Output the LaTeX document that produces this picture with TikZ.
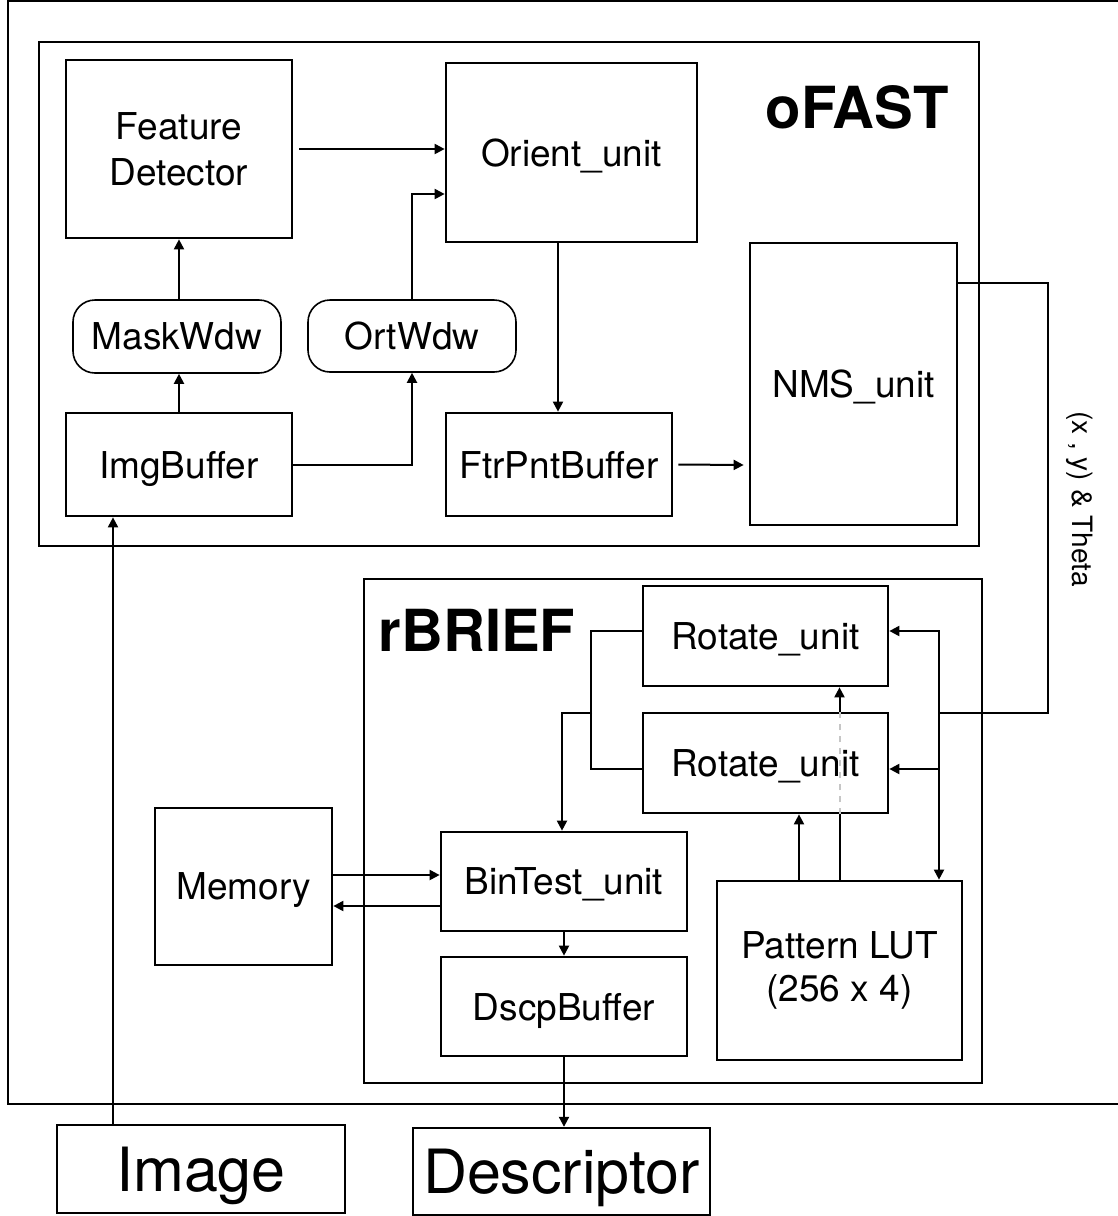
\documentclass[tikz,border=0pt]{standalone}
\usepackage{fontspec}
\setmainfont{TeX Gyre Heros}
\usetikzlibrary{arrows.meta, positioning}

\begin{document}
\begin{tikzpicture} [x = 0.5pt, y = -0.5pt,
    blk/.style = {draw, line width = 1.35pt, inner sep = 0pt, align = center, font = \fontsize{18.5}{23}\selectfont},
    unit/.style = {blk, text depth = 0pt},
    wdw/.style = {unit, rounded corners = 11pt, line width = 0.8pt},
    io/.style = {draw, line width = 1.2pt, inner sep = 0pt, text depth = 0pt, font = \fontsize{30.5}{36}\selectfont},
    title/.style = {inner sep = 0pt, font = \fontsize{29}{34}\selectfont\bfseries},
    frame/.style = {line width = 1.2pt},
    wire/.style = {line width = 1pt},
    arr/.style = {wire, -{Triangle[length = 5pt, width = 5pt]}}]
\useasboundingbox (0,0) rectangle (1118,1216);
\draw [frame] (1118,1) -- (8,1) -- (8,1104) -- (1118,1104);
\draw [frame] (39,42) rectangle (979,546);
\draw [frame] (364,579) rectangle (982,1083);
\node (ofast) [title] at (857,107) {oFAST};
\node (rbrief) [title] at (477,630) {rBRIEF};
\node (fd) [blk, minimum width = 113pt, minimum height = 89pt] at (179,149) {Feature\\Detector};
\node (orient) [unit, minimum width = 125.5pt, minimum height = 89.5pt] at (571.5,152.5) {Orient\_unit};
\node (nms) [unit, minimum width = 103.5pt, minimum height = 141pt] at (853.5,384) {NMS\_unit};
\node (mask) [wdw, minimum width = 104pt, minimum height = 36.5pt] at (177,336.5) {MaskWdw};
\node (ort) [wdw, minimum width = 104pt, minimum height = 36pt] at (412,336) {OrtWdw};
\node (imgbuf) [unit, minimum width = 113pt, minimum height = 51.5pt] at (179,464.5) {ImgBuffer};
\node (ftrbuf) [unit, minimum width = 113pt, minimum height = 51.5pt] at (559,464.5) {FtrPntBuffer};
\node (rot1) [unit, minimum width = 122.5pt, minimum height = 50pt] at (765.5,636) {Rotate\_unit};
\node (rot2) [unit, minimum width = 122.5pt, minimum height = 50pt] at (765.5,763) {Rotate\_unit};
\node (mem) [unit, minimum width = 88.5pt, minimum height = 78.5pt] at (243.5,886.5) {Memory};
\node (bin) [unit, minimum width = 123pt, minimum height = 49.5pt] at (564,881.5) {BinTest\_unit};
\node (dscp) [unit, minimum width = 123pt, minimum height = 49.5pt] at (564,1006.5) {DscpBuffer};
\node (lut) [blk, minimum width = 122.5pt, minimum height = 89.5pt, font = \fontsize{18.5}{21.5}\selectfont] at (839.5,970.5) {Pattern LUT\\(256 x 4)};
\node (image) [io, minimum width = 144pt, minimum height = 44pt] at (201,1169) {Image};
\node (desc) [io, minimum width = 148.5pt, minimum height = 43.5pt] at (561.5,1171.5) {Descriptor};
\node (xyt) [rotate = -90, inner sep = 0pt, font = \fontsize{14}{17}\selectfont] at (1080,499) {(x , y) \& Theta};
\coordinate (bus) at (1048,713);
\coordinate (tap) at (939,713);
\coordinate (rj) at (592,713);
\draw [arr] ([xshift = 3pt]fd.east) -- ([yshift = 1.75pt]orient.west);
\draw [arr] (imgbuf.east) -| (ort.south);
\draw [arr] (ort.north) |- ([yshift = -20.75pt]orient.west);
\draw [arr] (imgbuf.north) -- ([xshift = 1pt]mask.south);
\draw [arr] ([xshift = 1pt]mask.north) -- (fd.south);
\draw [arr] ([xshift = -6.75pt]orient.south) -- ([xshift = -0.5pt]ftrbuf.north);
\draw [arr] ([xshift = 2.5pt]ftrbuf.east) -- ([xshift = -2.5pt, yshift = -40.5pt]nms.west);
\draw [wire] ([yshift = 50.5pt]nms.east) -| (bus) -- (tap);
\draw [arr] (tap) |- ([yshift = 2.5pt]rot1.east);
\draw [arr] (tap) |- ([yshift = -3pt]rot2.east);
\draw [arr] (tap) -- (tap |- lut.north);
\draw [wire] ([yshift = 2.5pt]rot1.west) -- ++(-25.5pt,0) |- ([yshift = -3pt]rot2.west);
\draw [arr] (rj) -| ([xshift = -1pt]bin.north);
\draw [arr] ([xshift = -20.25pt]lut.north) -- ([xshift = 16.75pt]rot2.south);
\draw [wire] (lut.north) -- (lut.north |- rot2.south);
\draw [wire, gray!45, dashed] (rot2.south -| lut.north) -- (rot2.north -| lut.north);
\draw [arr] (rot2.north -| lut.north) -- (rot1.south -| lut.north);
\draw [arr] ([yshift = 5.75pt]mem.east) -- ([yshift = 3.25pt]bin.west);
\draw [arr] ([yshift = -12.25pt]bin.west) -- ([yshift = -9.75pt]mem.east);
\draw [arr] (bin.south) -- (dscp.north);
\draw [arr] (dscp.south) -- (dscp.south |- desc.north);
\draw [arr] ([xshift = -44pt]image.north) -- ([xshift = -33pt]imgbuf.south);
\end{tikzpicture}
\end{document}
